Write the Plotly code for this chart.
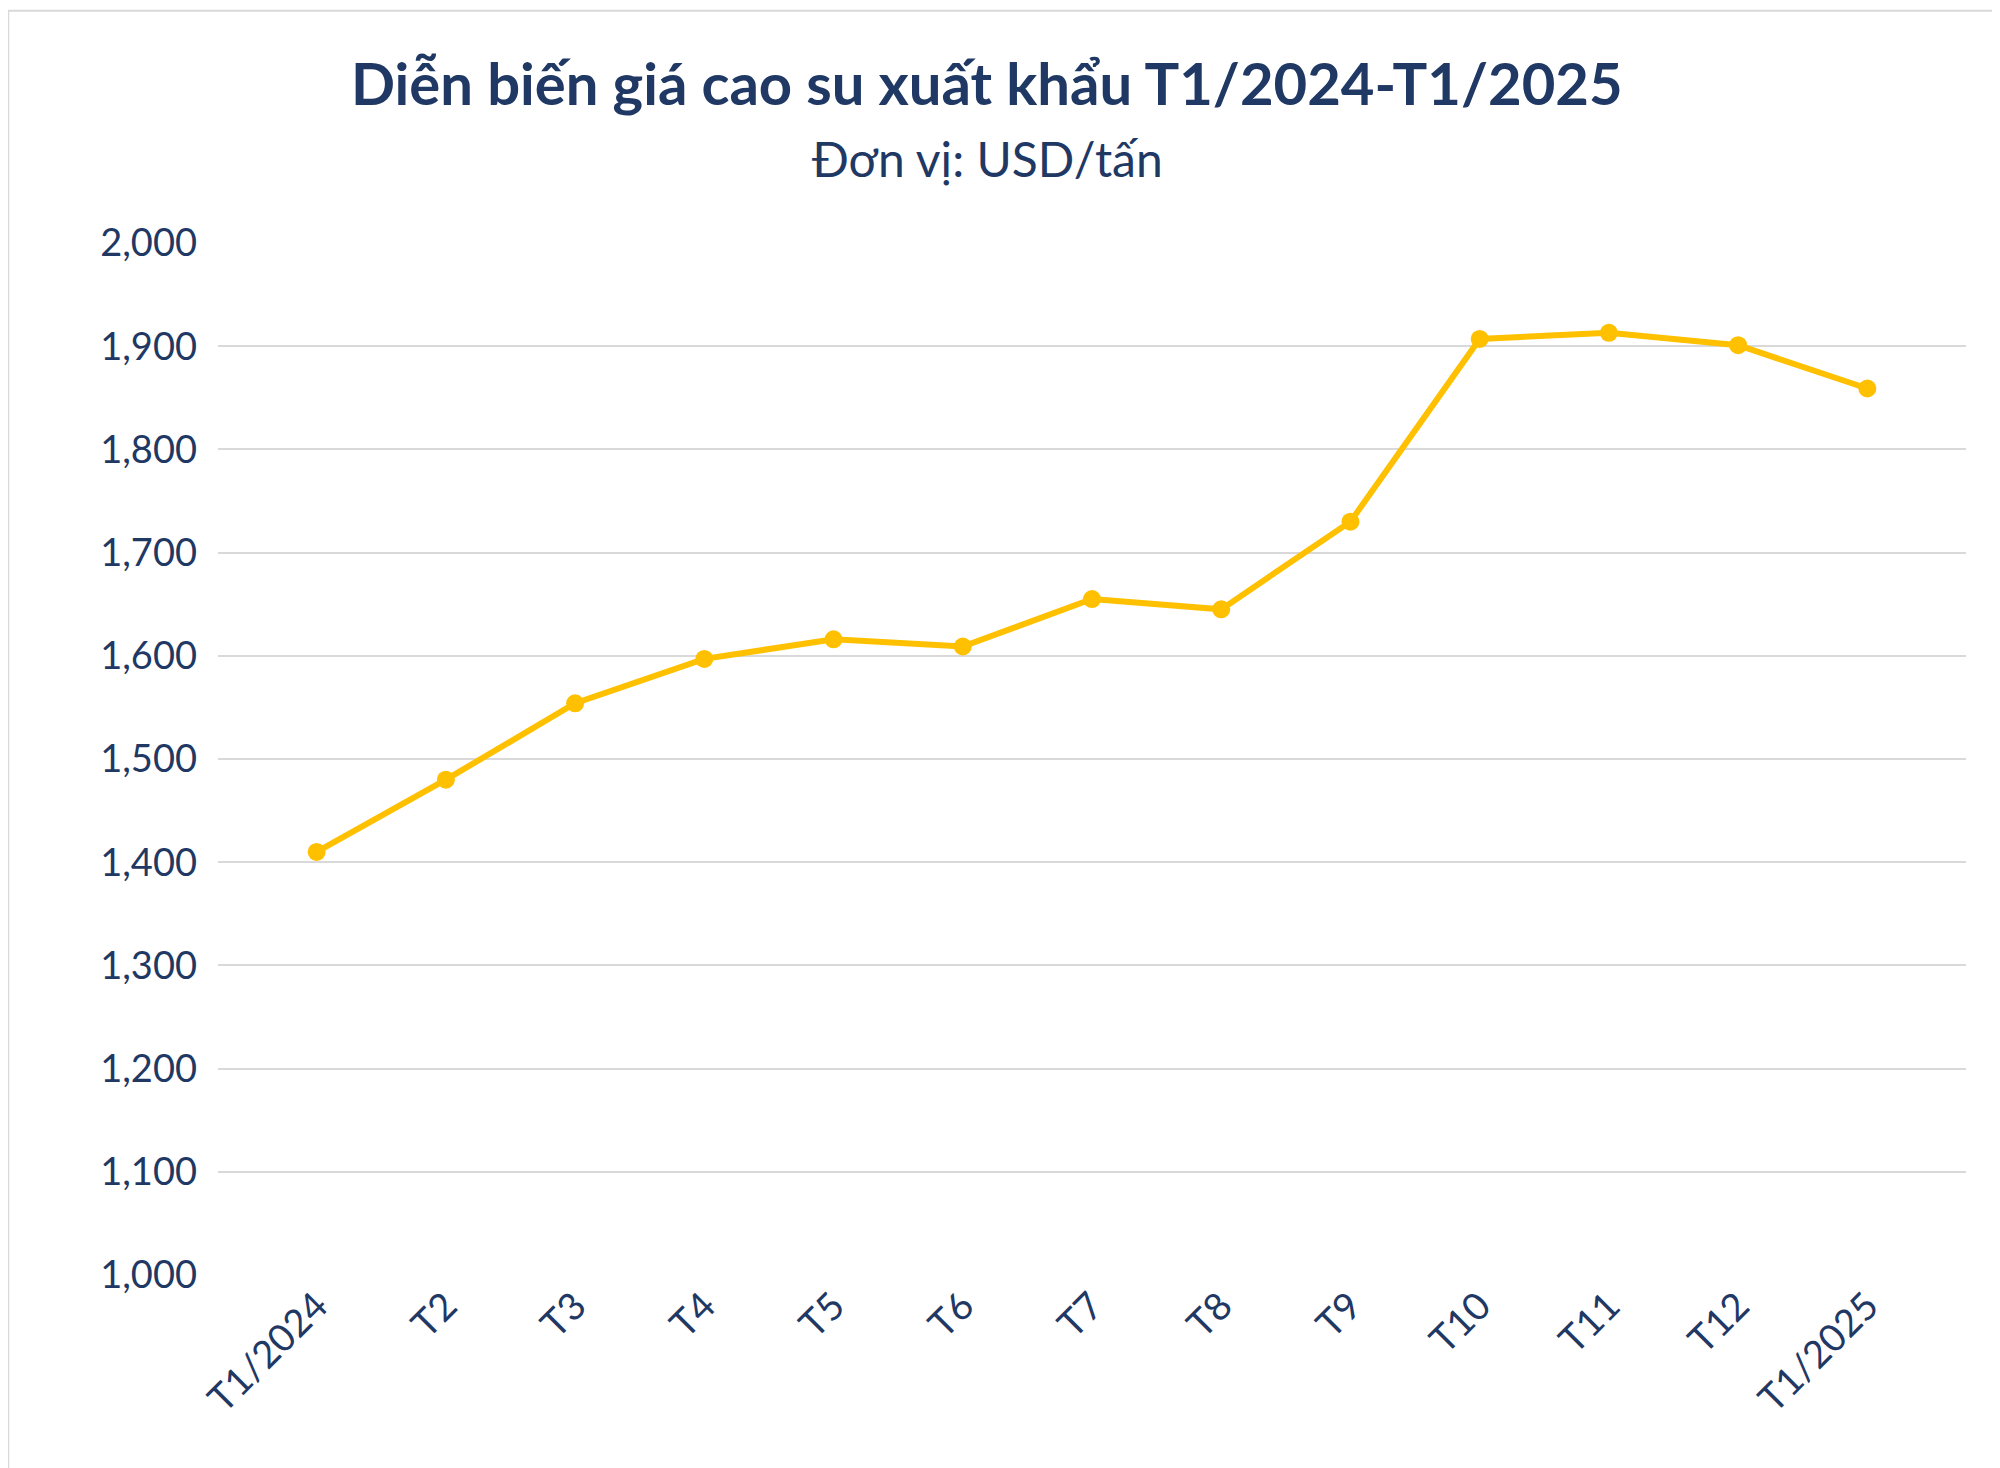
import plotly.graph_objects as go

months = ["T1/2024", "T2", "T3", "T4", "T5", "T6", "T7", "T8", "T9", "T10", "T11", "T12", "T1/2025"]
prices = [1410, 1480, 1554, 1597, 1616, 1609, 1655, 1645, 1730, 1907, 1913, 1901, 1859]
y_ticks = list(range(1000, 2001, 100))

navy = "#1f3864"

fig = go.Figure()
fig.add_trace(go.Scatter(
    x=months, y=prices, mode="lines+markers",
    line=dict(color="#FFC000", width=6),
    marker=dict(color="#FFC000", size=18),
))

fig.update_layout(
    width=2000, height=1468,
    paper_bgcolor="white", plot_bgcolor="white",
    margin=dict(l=210, r=42, t=235, b=201),
    font=dict(family="Lato", color=navy, size=38),
    showlegend=False,
    xaxis=dict(tickangle=-45, showgrid=False, showline=False, ticks=""),
    yaxis=dict(
        range=[1000, 2000], tickvals=y_ticks, tickformat=",",
        gridcolor="#d9d9d9", gridwidth=2, zeroline=False, ticks="",
        ticklabelstandoff=20,
    ),
    annotations=[
        dict(text="<b>Diễn biến giá cao su xuất khẩu T1/2024-T1/2025</b>",
             xref="paper", yref="paper", x=0.44, y=1.156, yanchor="middle",
             showarrow=False, font=dict(size=58, color=navy)),
        dict(text="Đơn vị: USD/tấn",
             xref="paper", yref="paper", x=0.44, y=1.082, yanchor="middle",
             showarrow=False, font=dict(size=48, color=navy)),
    ],
    shapes=[dict(type="rect", xref="paper", yref="paper",
                 x0=-0.12, x1=1.023, y0=-0.195, y1=1.225,
                 line=dict(color="#d9d9d9", width=2))],
)

fig.write_html("out.html")
